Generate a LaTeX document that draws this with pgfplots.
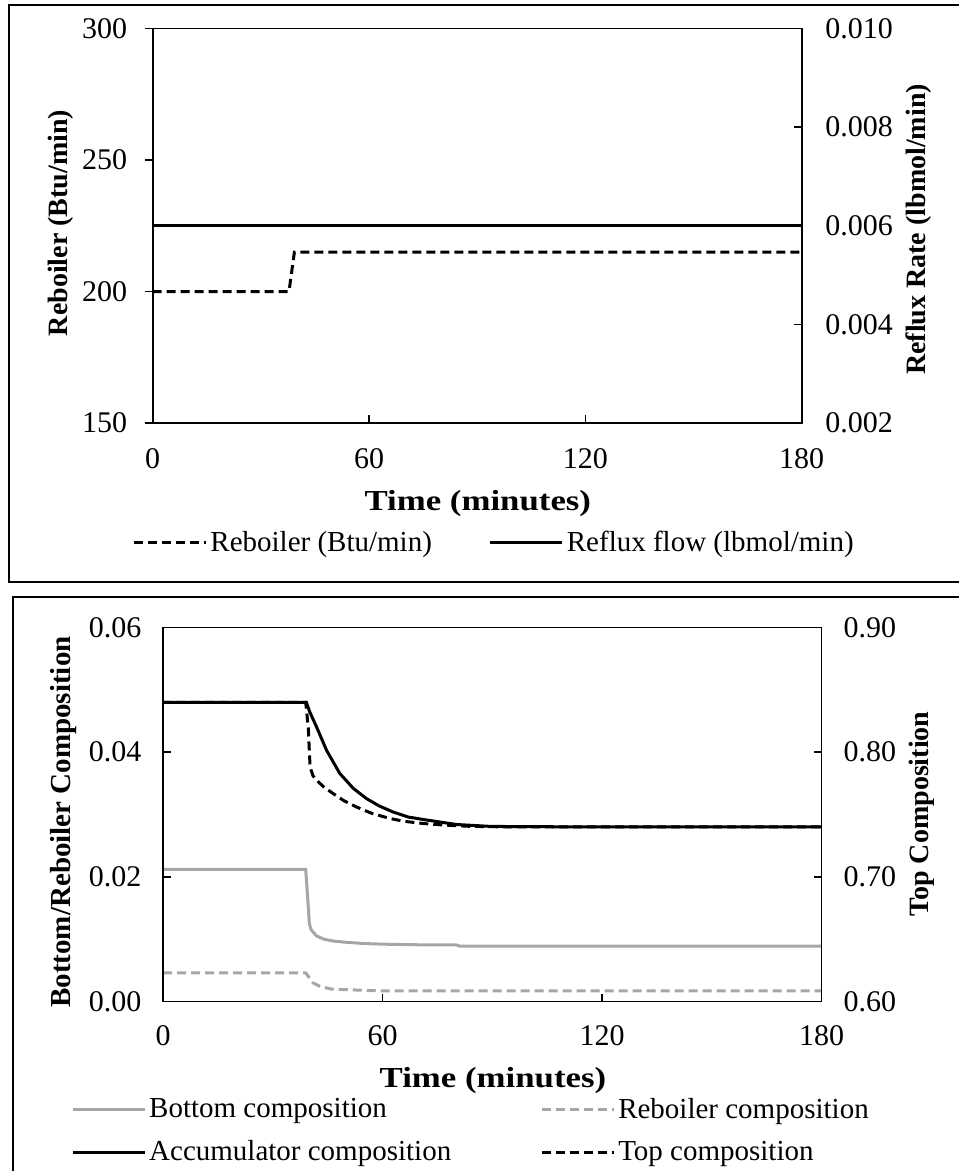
\documentclass[border=0pt]{standalone}
\usepackage{fontspec}
\setmainfont{Liberation Serif}
\newfontfamily\xlabfont[FakeStretch=1.2]{Liberation Serif}
\usepackage{pgfplots}
\pgfplotsset{compat=1.18}
\definecolor{lgray}{RGB}{166,166,166}
\pgfplotsset{
  base/.style={
    scale only axis,
    xmin=0, xmax=180,
    scaled y ticks=false, scaled x ticks=false,
    axis line style={line width=0.8pt},
    every tick/.style={line width=0.8pt, black},
    major tick length=4pt,
    tick label style={font=\fontsize{15}{17}\selectfont},
    /pgf/number format/assume math mode=true,
    ylabel style={font=\bfseries\fontsize{14}{17}\selectfont},
    xlabel style={font=\xlabfont\bfseries\fontsize{14.5}{17}\selectfont},
    legend image code/.code={\draw[#1] (0pt,0pt) -- (36pt,0pt);},
  },
  dsh/.style={dash pattern=on 4.5pt off 2.5pt},
}
\begin{document}
\begin{tikzpicture}
\path[use as bounding box] (0,0) rectangle (479pt,-585.5pt);
\draw[line width=1pt] (4.5pt,-2.5pt) rectangle (485pt,-291pt);
\draw[line width=1pt] (6.5pt,-298.5pt) rectangle (485pt,-590pt);

% ---------- top panel, left axis ----------
\begin{axis}[base,
  at={(76.35pt,-211.5pt)}, anchor=south west,
  width=324.5pt, height=197.2pt,
  ymin=150, ymax=300, ytick={150,200,250,300},
  xtick=\empty, ytick pos=left, tick align=outside,
  yticklabel style={xshift=-5.2pt},
  ylabel={Reboiler (Btu/min)},
  ylabel style={at={(axis description cs:-0.1413,0.507)}, anchor=center},
]
\addplot[black, line width=1.5pt, dsh] coordinates {(0,200) (37.8,200) (39.3,215) (180,215)};
\end{axis}

% ---------- top panel, right axis ----------
\begin{axis}[base,
  at={(76.35pt,-211.5pt)}, anchor=south west,
  width=324.5pt, height=197.2pt,
  ymin=0.002, ymax=0.010, ytick={0.002,0.004,0.006,0.008,0.010},
  yticklabels={0.002,0.004,0.006,0.008,0.010},
  xtick={0,60,120,180}, xtick pos=bottom, ytick pos=right, tick align=inside,
  xticklabel style={yshift=-9pt},
  yticklabel style={xshift=8.3pt},
  xlabel={Time (minutes)},
  xlabel style={at={(axis description cs:0.501,-0.203)}, anchor=center},
  ylabel={Reflux Rate (lbmol/min)},
  ylabel style={at={(axis description cs:1.1808,0.4906)}, anchor=center},
  legend columns=2,
  legend style={draw=none, fill=none, at={(0.5267,-0.304)}, anchor=center,
    font=\fontsize{14.5}{17}\selectfont, inner sep=0pt,
    nodes={inner sep=1.5pt},
    /tikz/every even column/.append style={column sep=27pt}},
]
\addlegendimage{black, line width=1.5pt, dsh}
\addlegendentry{Reboiler (Btu/min)}
\addplot[black, line width=1.5pt] coordinates {(0,0.006) (180,0.006)};
\addlegendentry{Reflux flow (lbmol/min)}
\end{axis}

% ---------- bottom panel, left axis ----------
\begin{axis}[base,
  at={(81.5pt,-500.75pt)}, anchor=south west,
  width=329.3pt, height=187pt,
  ymin=0, ymax=0.06, ytick={0,0.02,0.04,0.06},
  yticklabels={0.00,0.02,0.04,0.06},
  xtick={0,60,120,180}, xtick pos=bottom, ytick pos=left, tick align=inside,
  xticklabel style={yshift=-8.5pt},
  yticklabel style={xshift=-7.3pt},
  xlabel={Time (minutes)},
  xlabel style={at={(axis description cs:0.501,-0.2126)}, anchor=center},
  ylabel={Bottom/Reboiler Composition},
  ylabel style={at={(axis description cs:-0.1503,0.48)}, anchor=center,
    font=\bfseries\fontsize{14.5}{17}\selectfont},
]
\addplot[lgray, line width=1.5pt] coordinates {
(0,0.0212) (39,0.0212) (39.5,0.0170) (40,0.0125) (40.5,0.0115) (42,0.0105)
(44,0.0100) (46.5,0.0097) (50,0.0095) (55,0.0093) (60,0.0092) (70,0.0091)
(80,0.0091) (81,0.0089) (180,0.0089)};
\addplot[lgray, line width=1.5pt, dsh] coordinates {
(0,0.0046) (39,0.0046) (40,0.0038) (41,0.0030) (43,0.0024) (46,0.0020)
(50,0.0019) (55,0.0018) (60,0.0017) (180,0.0017)};
\end{axis}

% ---------- bottom panel, right axis ----------
\begin{axis}[base,
  at={(81.5pt,-500.75pt)}, anchor=south west,
  width=329.3pt, height=187pt,
  ymin=0.6, ymax=0.9, ytick={0.6,0.7,0.8,0.9},
  yticklabels={0.60,0.70,0.80,0.90},
  xtick=\empty, ytick pos=right, tick align=inside,
  yticklabel style={xshift=7.5pt},
  ylabel={Top Composition},
  ylabel style={at={(axis description cs:1.1524,0.501)}, anchor=center},
  legend columns=2,
  legend cell align=left,
  legend style={draw=none, fill=none, at={(0.4684,-0.3456)}, anchor=center,
    font=\fontsize{14.5}{17}\selectfont, inner sep=0pt,
    nodes={inner sep=1.5pt}, row sep=6.75pt,
    /tikz/every even column/.append style={column sep=43pt}},
]
\addlegendimage{lgray, line width=1.5pt}
\addlegendentry{Bottom composition}
\addlegendimage{lgray, line width=1.5pt, dsh}
\addlegendentry{Reboiler composition}
\addplot[black, line width=1.5pt] coordinates {
(0,0.840) (39.2,0.840) (40,0.833) (42,0.820) (44.7,0.8015) (48.3,0.783)
(52,0.771) (55.6,0.7628) (59,0.757) (62.9,0.752) (67,0.748) (71.1,0.746)
(80.2,0.742) (89.3,0.7405) (100,0.7402) (180,0.740)};
\addlegendentry{Accumulator composition}
\addplot[black, line width=1.5pt, dsh] coordinates {
(0,0.840) (39,0.840) (39.7,0.820) (40.2,0.788) (41,0.781) (42,0.7774)
(44,0.772) (46.5,0.7668) (49.5,0.761) (52.9,0.756) (57,0.751) (62,0.7468)
(66,0.7445) (71.1,0.7428) (77,0.7415) (84,0.7405) (95,0.7400) (180,0.740)};
\addlegendentry{Top composition}
\end{axis}
\end{tikzpicture}
\end{document}
